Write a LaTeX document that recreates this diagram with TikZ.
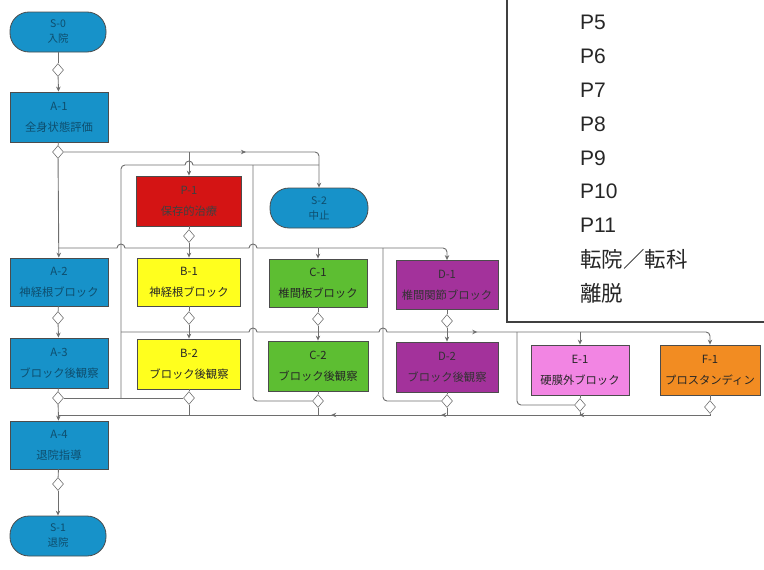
\documentclass[tikz,border=0pt]{standalone}
\usepackage{fontspec}
\setmainfont{Liberation Sans}
\newfontfamily\jp{Noto Sans CJK JP}
\usetikzlibrary{shapes.geometric,arrows.meta,decorations.markings}
\definecolor{cblue}{HTML}{1792C9}
\definecolor{cred}{HTML}{D41414}
\definecolor{cyel}{HTML}{FFFF1E}
\definecolor{cgrn}{HTML}{5DBE32}
\definecolor{cpur}{HTML}{A3329B}
\definecolor{cpnk}{HTML}{F285E3}
\definecolor{corg}{HTML}{F28C22}
\definecolor{cline}{HTML}{6E6E6E}
\definecolor{tblue}{HTML}{0E4E6E}
\begin{document}
\begin{tikzpicture}[x=1pt,y=-1pt,
  blk/.style={rectangle, draw=black!70, line width=0.8pt, fill=#1, minimum width=102pt, minimum height=50pt,
    align=center, inner sep=1pt, font=\jp\fontsize{11.3}{21}\selectfont, text=black!85},
  bluebox/.style={blk=cblue, text=tblue},
  term/.style={bluebox, rounded corners=19pt, minimum width=96pt, minimum height=40pt,
    font=\jp\fontsize{10.5}{15}\selectfont},
  dia/.style={diamond, draw=black!55, fill=white, line width=0.6pt, minimum width=11pt, minimum height=13pt, inner sep=0pt},
  ln/.style={draw=cline, line width=0.9pt},
  arr/.style={ln, -{Stealth[length=5pt,width=4.5pt]}},
  midarr/.style={postaction={decorate}, decoration={markings, mark=at position #1 with {\arrow[cline]{Stealth[length=5pt,width=4.5pt]}}}},
  ptext/.style={anchor=west, inner sep=0pt, text=black!85, font=\fontsize{21}{25}\selectfont},
  jtext/.style={ptext, font=\jp\fontsize{21.5}{25}\selectfont}
]
\useasboundingbox (0,0) rectangle (764,570);

% right panel
\draw[black!75, line width=1.2pt] (507,-3) -- (507,322) -- (767,322);
\node[ptext] (p5) at (580,22) {P5};
\node[ptext] (p6) at (580,56) {P6};
\node[ptext] (p7) at (580,90) {P7};
\node[ptext] (p8) at (580,124) {P8};
\node[ptext] (p9) at (580,158) {P9};
\node[ptext] (p10) at (580,191) {P10};
\node[ptext] (p11) at (580,225) {P11};
\node[jtext] (tr) at (580,259) {転院／転科};
\node[jtext] (rd) at (580,293) {離脱};

% left column
\node[term] (t0) at (58,32) {S-0\\入院};
\node[dia] (d0) at (58,70) {};
\node[bluebox, minimum width=98pt] (a1) at (59,117) {A-1\\全身状態評価};
\node[dia] (d1) at (58,152) {};
\node[bluebox, minimum width=98pt, minimum height=48pt] (a2) at (59,282) {A-2\\神経根ブロック};
\node[dia] (d2) at (58,318) {};
\node[bluebox, minimum width=98pt] (a3) at (59,363) {A-3\\ブロック後観察};
\node[dia] (d3) at (58,398) {};
\node[bluebox, minimum width=98pt, minimum height=48pt] (a4) at (59,445) {A-4\\退院指導};
\node[dia] (d4) at (58,484) {};
\node[term] (t1) at (58,536) {S-1\\退院};

% upper middle
\node[blk=cred, minimum width=105pt, text=black!75] (p1) at (189,201) {P-1\\保存的治療};
\node[dia] (dp1) at (189,236) {};
\node[term, minimum width=98pt] (t2) at (319,208) {S-2\\中止};

% block rows
\node[blk=cyel, minimum width=103pt, minimum height=48pt] (b1) at (189,282) {B-1\\神経根ブロック};
\node[dia] (db1) at (189,318) {};
\node[blk=cyel, minimum width=103pt] (b2) at (189,364) {B-2\\ブロック後観察};
\node[dia] (db2) at (189,398) {};
\node[blk=cgrn, minimum width=98pt, minimum height=48pt] (c1) at (318,283) {C-1\\椎間板ブロック};
\node[dia] (dc1) at (318,319) {};
\node[blk=cgrn, minimum width=100pt] (c2) at (318,366) {C-2\\ブロック後観察};
\node[dia] (dc2) at (318,401) {};
\node[blk=cpur, minimum height=49pt, text=black!80] (e1d) at (447,285) {D-1\\椎間関節ブロック};
\node[dia] (dd1) at (447,321) {};
\node[blk=cpur, text=black!80] (e2d) at (447,367) {D-2\\ブロック後観察};
\node[dia] (dd2) at (447,401) {};
\node[blk=cpnk, minimum width=98pt] (e1) at (580,370) {E-1\\硬膜外ブロック};
\node[dia] (de) at (580,405) {};
\node[blk=corg, minimum width=100pt] (f1) at (710,370) {F-1\\プロスタンディン};
\node[dia] (df) at (710,407) {};

% junction coordinates
\coordinate (j1) at (189,152);
\coordinate (j2) at (58,248);
\coordinate (j3) at (318,248);
\coordinate (j4) at (121,332);
\coordinate (j5) at (580,332);
\coordinate (j6) at (58,415);
\coordinate (k1) at (121,398);
\coordinate (k2) at (253,165);
\coordinate (k3) at (383,248);
\coordinate (k4) at (517,332);

% main column
\draw[ln] (t0) -- (d0);
\draw[arr] (d0) -- (a1);
\draw[ln] (a1) -- (d1);
\draw[arr] (d1) -- (a2);
\draw[ln] (a2) -- (d2);
\draw[arr] (d2) -- (a3);
\draw[ln] (a3) -- (d3);
\draw[arr] (d3) -- (a4);
\draw[ln] (a4) -- (d4);
\draw[arr] (d4) -- (t1);

% to stop terminal and red box
\draw[arr, midarr=0.63] (d1.east) [rounded corners=4pt] -- (t2.north |- d1.east) -- (t2.north);
\draw[arr] (j1) -- (p1.north);
\draw[ln] (p1) -- (dp1);

% loop V1 and line y=165
\draw[ln] (d3.east) -- (db2.west);
\draw[ln] (k1) [rounded corners=4pt] -- (121,165) -- (150,165) [sharp corners] -- (185,165)
  arc[start angle=180, end angle=360, radius=4] -- (319,165);
% V2, V3, V4
\draw[ln] (dc2.west) [rounded corners=4pt] -- (253,401) -- (k2);
\draw[ln] (dd2.west) [rounded corners=4pt] -- (383,401) -- (k3);
\draw[ln] (de.west) [rounded corners=4pt] -- (517,405) -- (k4);

% bus y=248
\draw[arr] (j2) -- (117,248) arc[start angle=180, end angle=360, radius=4]
  -- (249,248) arc[start angle=180, end angle=360, radius=4]
  -- (430,248) [rounded corners=4pt] -- (447,248) -- (e1d.north);
\draw[arr] (dp1) -- (b1);
\draw[arr] (j3) -- (c1.north);

% block column links
\draw[ln] (b1) -- (db1);
\draw[arr] (db1) -- (b2);
\draw[ln] (b2) -- (db2);
\draw[ln] (c1) -- (dc1);
\draw[arr] (dc1) -- (c2);
\draw[ln] (c2) -- (dc2);
\draw[ln] (e1d) -- (dd1);
\draw[arr] (dd1) -- (e2d);
\draw[ln] (e2d) -- (dd2);
\draw[ln] (e1) -- (de);
\draw[ln] (f1) -- (df);

% bus y=332
\draw[arr, midarr=0.6] (j4) -- (249,332) arc[start angle=180, end angle=360, radius=4]
  -- (379,332) arc[start angle=180, end angle=360, radius=4]
  -- (695,332) [rounded corners=4pt] -- (710,332) -- (f1.north);
\draw[arr] (j5) -- (e1.north);

% return line y=415 to A-4
\draw[ln, postaction={decorate}, decoration={markings,
   mark=at position 132pt with {\arrow[cline]{Stealth[length=5pt,width=4.5pt]}},
   mark=at position 270pt with {\arrow[cline]{Stealth[length=5pt,width=4.5pt]}},
   mark=at position 380pt with {\arrow[cline]{Stealth[length=5pt,width=4.5pt]}}}]
  (df.south) -- (df.south |- j6) -- (j6);
\draw[ln] (db2.south) -- (db2.south |- j6);
\draw[ln] (dc2.south) -- (dc2.south |- j6);
\draw[ln] (dd2.south) -- (dd2.south |- j6);
\draw[ln] (de.south) -- (de.south |- j6);
\end{tikzpicture}
\end{document}
